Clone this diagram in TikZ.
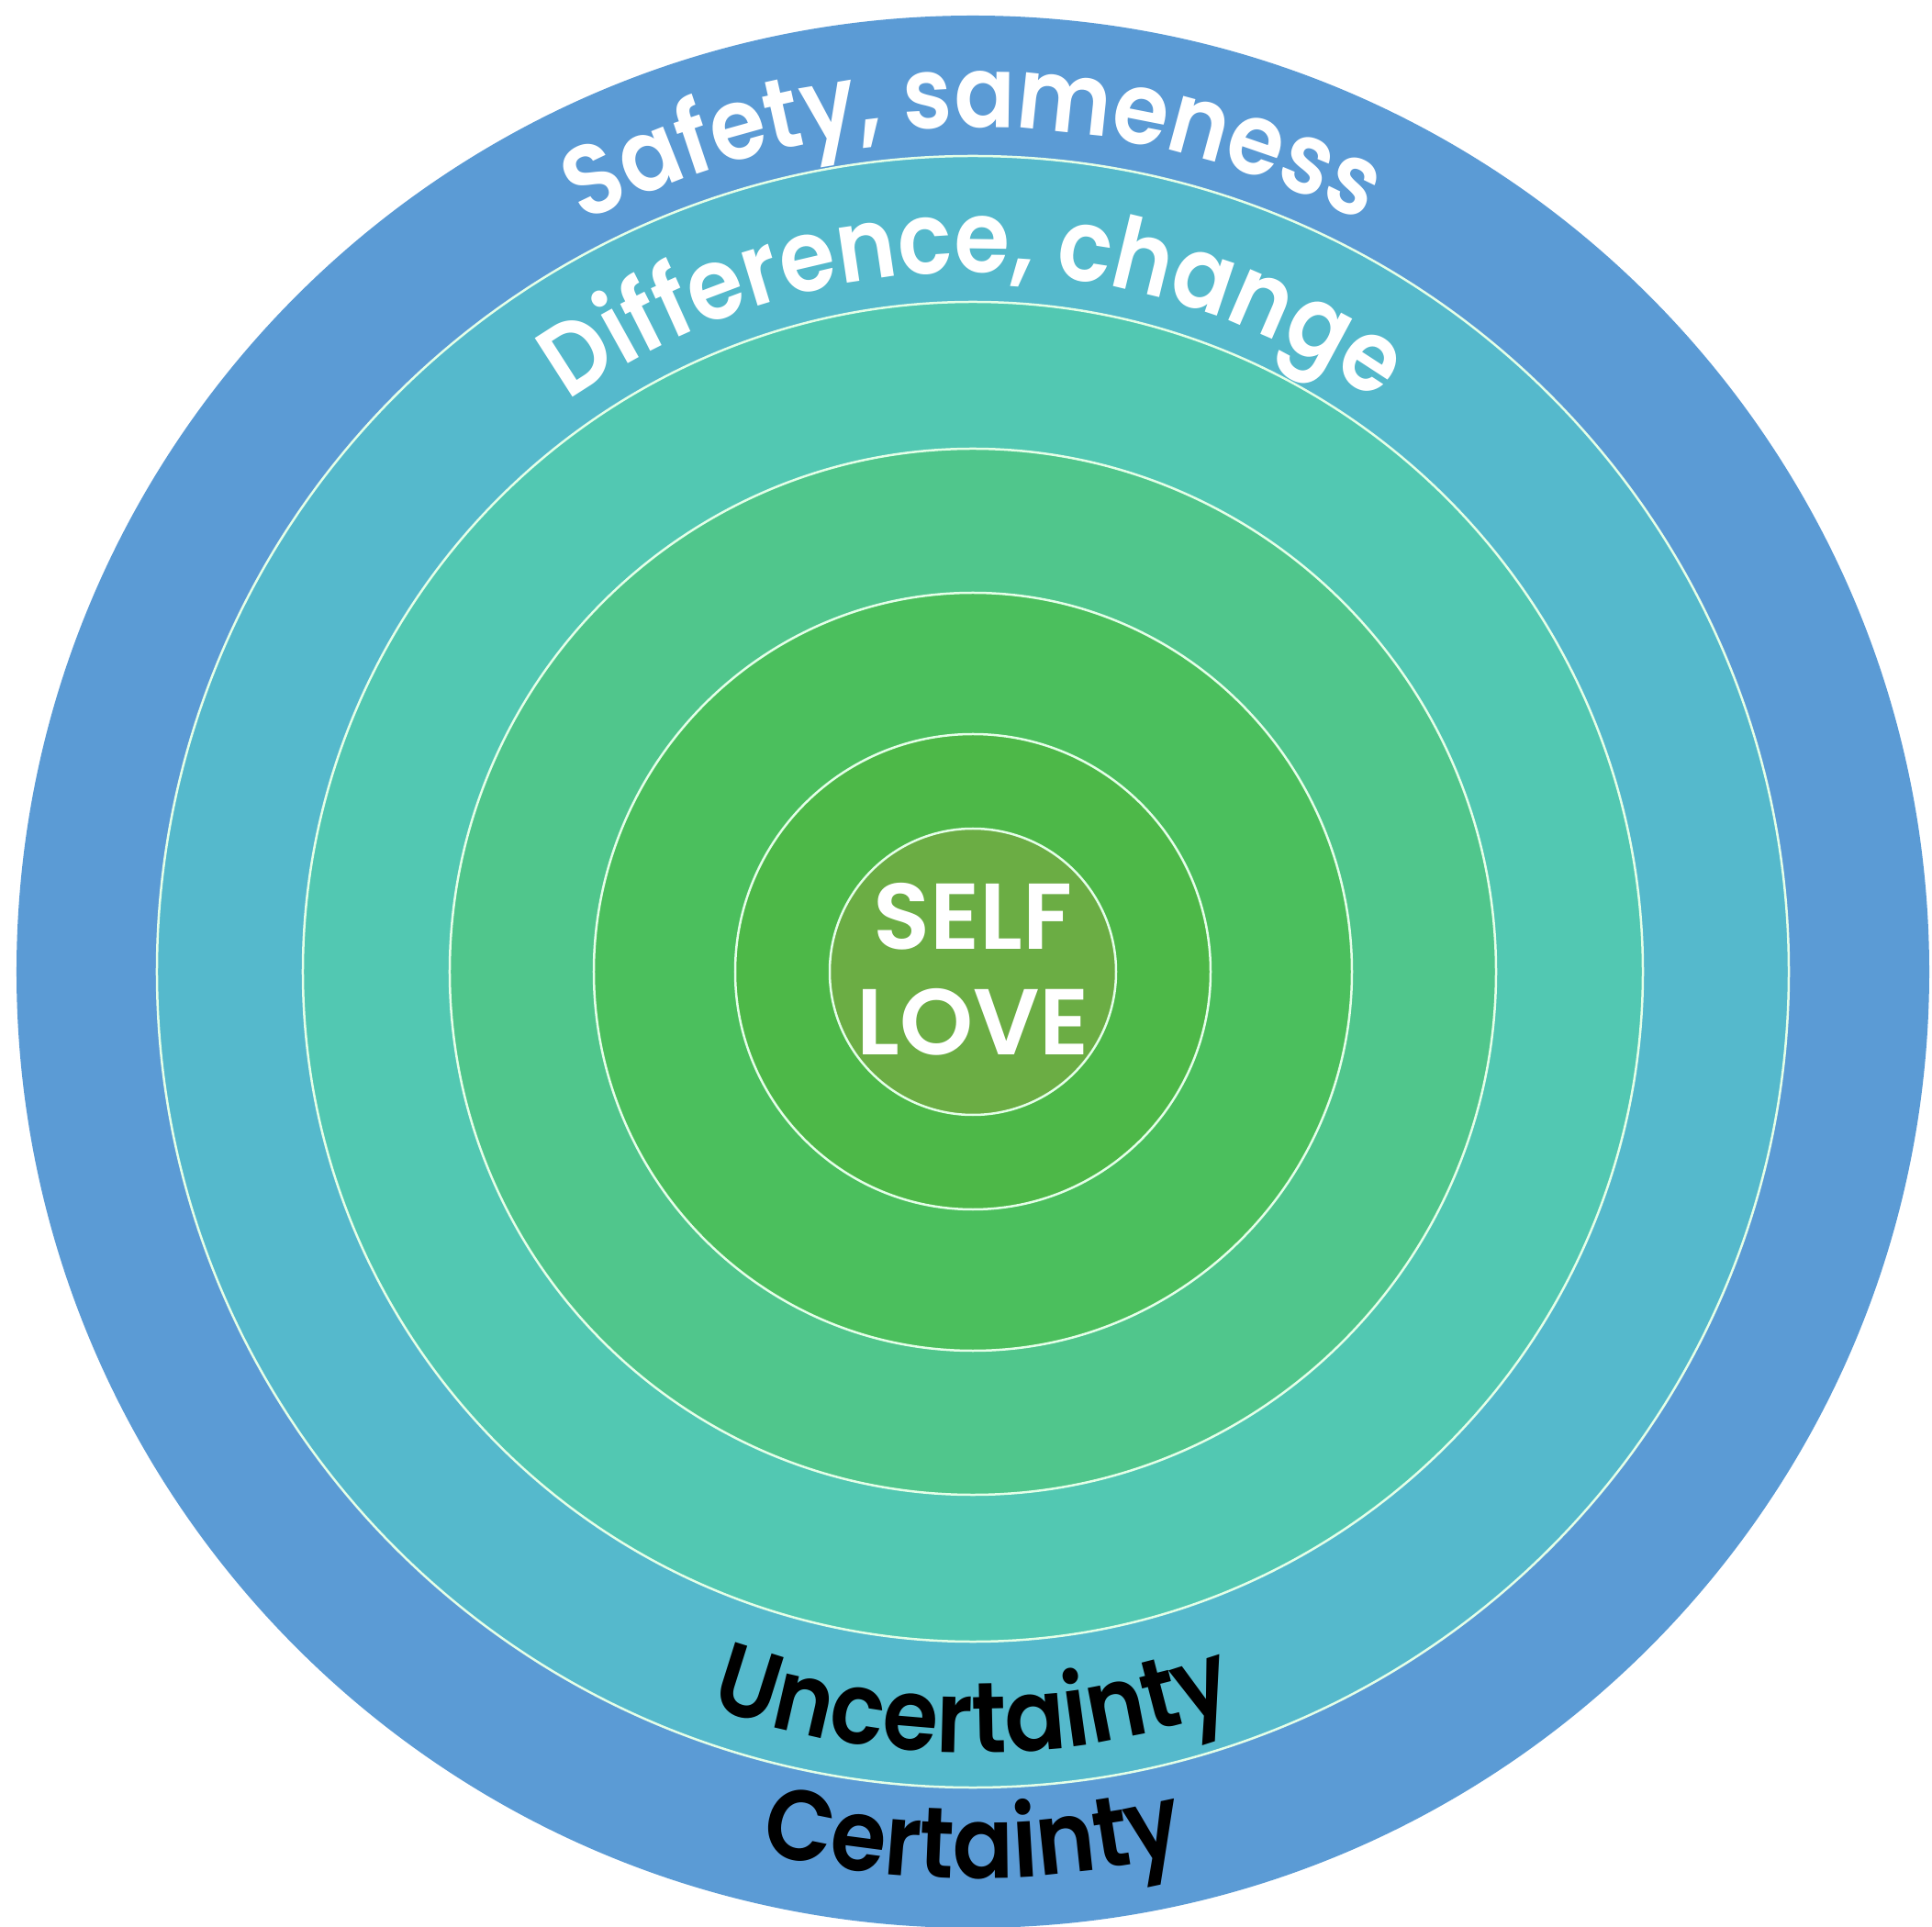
\documentclass[tikz,border=0pt]{standalone}
\usepackage{fontspec}
\newfontfamily\pop[FakeStretch=0.9]{Poppins SemiBold}
\newfontfamily\popw{Poppins SemiBold}
\usetikzlibrary{decorations.text}
\definecolor{cA}{RGB}{91,155,213}
\definecolor{cB}{RGB}{85,185,204}
\definecolor{cC}{RGB}{82,200,178}
\definecolor{cD}{RGB}{80,198,140}
\definecolor{cE}{RGB}{75,191,93}
\definecolor{cF}{RGB}{77,184,72}
\definecolor{cG}{RGB}{107,173,68}
\definecolor{ringline}{RGB}{228,255,232}
\tikzset{
  ring/.style={circle, inner sep=0pt, minimum size=#1, draw=ringline, line width=0.25mm},
  outerring/.style={circle, inner sep=0pt, minimum size=#1},
  arctext/.style={decorate, decoration={text along path, text align=center, text color=#1}}
}
\begin{document}
\begin{tikzpicture}
\useasboundingbox (-106mm,-104mm) rectangle (104.5mm,105.9mm);
\node[outerring=208.4mm, fill=cA] (r1) at (0,0) {};
\node[ring=177.8mm, fill=cB] (r2) at (0,0) {};
\node[ring=146.0mm, fill=cC] (r3) at (0,0) {};
\node[ring=114.0mm, fill=cD] (r4) at (0,0) {};
\node[ring=82.6mm, fill=cE] (r5) at (0,0) {};
\node[ring=51.8mm, fill=cF] (r6) at (0,0) {};
\node[ring=31.2mm, fill=cG] (r7) at (0,0) {};
\node[text=white, align=center, font=\popw\fontsize{29}{32.7}\selectfont] (self) at (0,0.3mm) {SELF\\LOVE};
\path[arctext=white, decoration={text={|\pop\fontsize{31}{36}\selectfont|Safety, sameness}}]
  (150:92mm) arc[start angle=150, end angle=30, radius=92mm];
\path[arctext=white, decoration={text={|\pop\fontsize{31}{36}\selectfont|Difference, change}}]
  (160:76.2mm) arc[start angle=160, end angle=20, radius=76.2mm];
\path[arctext=black, decoration={text={|\pop\fontsize{31}{36}\selectfont|Uncertainty}}]
  (210:85.1mm) arc[start angle=210, end angle=330, radius=85.1mm];
\path[arctext=black, decoration={text={|\pop\fontsize{31}{36}\selectfont|Certainty}}]
  (220:98.8mm) arc[start angle=220, end angle=320, radius=98.8mm];
\end{tikzpicture}
\end{document}
